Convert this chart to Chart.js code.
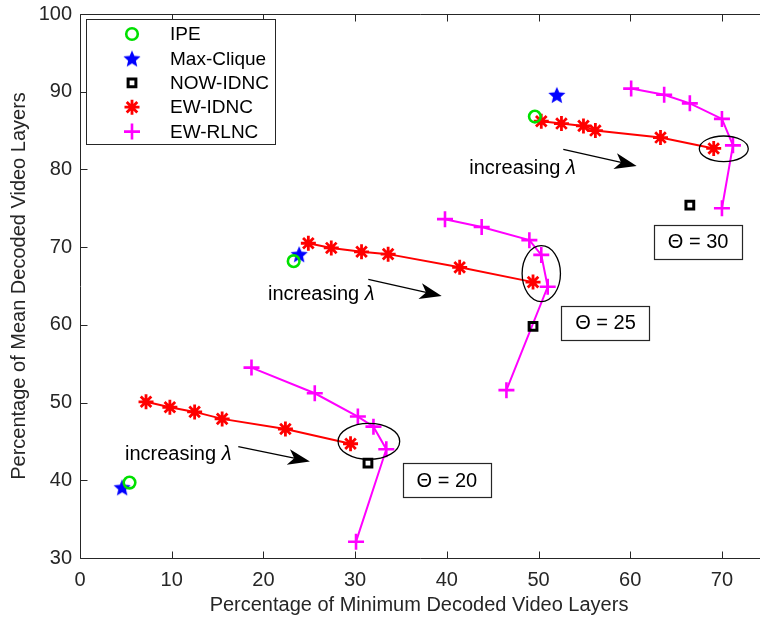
<!DOCTYPE html>
<html>
<head>
<meta charset="utf-8">
<script src="https://cdn.jsdelivr.net/npm/chart.js@4.4.1/dist/chart.umd.min.js"></script>
<style>
  html, body { margin: 0; padding: 0; background: #fff; overflow: hidden; }
  #wrap { width: 760px; height: 621px; }
</style>
</head>
<body>
<div id="wrap"><canvas id="chart" width="760" height="621"></canvas></div>
<script>
var FONT = '"Liberation Sans", Arial, Helvetica, sans-serif';
var INK = '#262626';

// x = % of minimum decoded layers, y = % of mean decoded layers
// one point per Theta group (20, 25, 30)
var thetas = [20, 25, 30];
var ipeX = [5.4, 23.3, 49.6];
var ipeY = [39.7, 68.2, 86.8];
var cliqueX = [4.6, 23.9, 52.0];
var cliqueY = [39.1, 69.1, 89.6];
var nowIdncX = [31.4, 49.4, 66.5];
var nowIdncY = [42.2, 59.8, 75.4];

// EW-IDNC sweeps (increasing lambda)
var ewIdnc20X = [7.2, 9.8, 12.5, 15.5, 22.4, 29.5];
var ewIdnc20Y = [50.1, 49.4, 48.8, 47.9, 46.6, 44.7];
var ewIdnc25X = [24.9, 27.4, 30.7, 33.6, 41.4, 49.4];
var ewIdnc25Y = [70.5, 69.9, 69.4, 69.1, 67.4, 65.5];
var ewIdnc30X = [50.3, 52.5, 54.9, 56.2, 63.3, 69.1];
var ewIdnc30Y = [86.2, 85.9, 85.6, 85.0, 84.1, 82.7];

// EW-RLNC sweeps
var ewRlnc20X = [18.7, 25.6, 30.3, 32.0, 33.4, 30.1];
var ewRlnc20Y = [54.5, 51.2, 48.2, 46.9, 44.0, 32.1];
var ewRlnc25X = [39.8, 43.8, 49.0, 50.3, 51.0, 46.5];
var ewRlnc25Y = [73.6, 72.6, 70.9, 69.0, 64.9, 51.6];
var ewRlnc30X = [60.1, 63.7, 66.5, 70.0, 71.2, 70.0];
var ewRlnc30Y = [90.4, 89.6, 88.5, 86.5, 83.1, 75.0];

var xTicks = [0, 10, 20, 30, 40, 50, 60, 70];
var yTicks = [30, 40, 50, 60, 70, 80, 90, 100];

var seriesNames = ['IPE', 'Max-Clique', 'NOW-IDNC', 'EW-IDNC', 'EW-RLNC'];

// annotation placement (data units)
var notes = {
  ellipses: [
    { x: 31.5, y: 45.0, rx: 3.36, ry: 2.32 },
    { x: 50.3, y: 66.6, rx: 2.09, ry: 3.6 },
    { x: 70.2, y: 82.65, rx: 2.67, ry: 1.65 }
  ],
  arrows: [
    { x0: 17.26, y0: 44.32, x1: 25.07, y1: 42.43 },
    { x0: 31.44, y0: 65.86, x1: 39.44, y1: 63.71 },
    { x0: 52.7, y0: 82.59, x1: 60.7, y1: 80.44 }
  ],
  lambda: [
    { x: 4.9, y: 42.6 },
    { x: 20.5, y: 63.2 },
    { x: 42.45, y: 79.37 }
  ],
  boxes: [
    { x: 40.0, y: 40.0 },
    { x: 57.3, y: 60.3 },
    { x: 67.4, y: 70.7 }
  ]
};

function pts(xs, ys) {
  return xs.map(function(x, i) { return { x: x, y: ys[i] }; });
}

function makeStar(r, color) {
  var c = document.createElement('canvas');
  var s = Math.ceil(r * 2 + 4);
  c.width = s; c.height = s;
  var g = c.getContext('2d');
  g.translate(s / 2, s / 2 + r * 0.1);
  g.beginPath();
  for (var i = 0; i < 10; i++) {
    var rad = i % 2 ? r * 0.45 : r;
    var a = -Math.PI / 2 + i * Math.PI / 5;
    g.lineTo(rad * Math.cos(a), rad * Math.sin(a));
  }
  g.closePath();
  g.fillStyle = color;
  g.fill();
  return c;
}

var styles = {
  'IPE': { pointStyle: 'circle', pointRadius: 5.8, pointBorderWidth: 2.6, borderColor: '#00e000', backgroundColor: 'rgba(0,0,0,0)' },
  'Max-Clique': { pointStyle: makeStar(9, '#0000ff'), pointRadius: 8, pointBorderWidth: 1, borderColor: '#0000ff', backgroundColor: '#0000ff' },
  'NOW-IDNC': { pointStyle: 'rect', pointRadius: 5.5, pointBorderWidth: 3, borderColor: '#000000', backgroundColor: 'rgba(0,0,0,0)' },
  'EW-IDNC': { pointStyle: 'star', pointRadius: 7.5, pointBorderWidth: 2.8, borderColor: '#ff0000', backgroundColor: '#ff0000' },
  'EW-RLNC': { pointStyle: 'cross', pointRadius: 8, pointBorderWidth: 2.6, borderColor: '#ff00ff', backgroundColor: '#ff00ff' }
};

function series(name, data, line) {
  var st = styles[name];
  return {
    label: name,
    data: data,
    showLine: !!line,
    borderWidth: 2,
    borderColor: st.borderColor,
    backgroundColor: st.backgroundColor,
    pointStyle: st.pointStyle,
    pointRadius: st.pointRadius,
    pointBorderWidth: st.pointBorderWidth,
    pointBorderColor: st.borderColor,
    pointBackgroundColor: st.backgroundColor
  };
}

var idncXs = [ewIdnc20X, ewIdnc25X, ewIdnc30X];
var idncYs = [ewIdnc20Y, ewIdnc25Y, ewIdnc30Y];
var rlncXs = [ewRlnc20X, ewRlnc25X, ewRlnc30X];
var rlncYs = [ewRlnc20Y, ewRlnc25Y, ewRlnc30Y];

var datasets = [
  series('IPE', pts(ipeX, ipeY)),
  series('Max-Clique', pts(cliqueX, cliqueY)),
  series('NOW-IDNC', pts(nowIdncX, nowIdncY))
];
thetas.forEach(function(t, k) {
  datasets.push(series('EW-IDNC', pts(idncXs[k], idncYs[k]), true));
  datasets.push(series('EW-RLNC', pts(rlncXs[k], rlncYs[k]), true));
});

function drawArrow(ctx, x0, y0, x1, y1) {
  var ang = Math.atan2(y1 - y0, x1 - x0);
  var len = 22, half = 8, notch = 6;
  var c = Math.cos(ang), s = Math.sin(ang);
  ctx.beginPath();
  ctx.moveTo(x0, y0);
  ctx.lineTo(x1 - c * (len - notch), y1 - s * (len - notch));
  ctx.stroke();
  ctx.beginPath();
  ctx.moveTo(x1, y1);
  ctx.lineTo(x1 - c * len - s * half, y1 - s * len + c * half);
  ctx.lineTo(x1 - c * (len - notch), y1 - s * (len - notch));
  ctx.lineTo(x1 - c * len + s * half, y1 - s * len - c * half);
  ctx.closePath();
  ctx.fill();
}

var decor = {
  id: 'decor',
  afterDatasetsDraw: function(chart) {
    var ctx = chart.ctx, a = chart.chartArea;
    var xs = chart.scales.x, ys = chart.scales.y;
    ctx.save();

    // axes box (right edge falls off the canvas) with inward ticks
    var L = Math.round(a.left) + 0.5, T = Math.round(a.top) + 0.5, B = Math.round(a.bottom) + 0.5;
    ctx.strokeStyle = INK;
    ctx.lineWidth = 1;
    ctx.beginPath();
    ctx.moveTo(a.right + 2, T); ctx.lineTo(L, T); ctx.lineTo(L, B); ctx.lineTo(a.right + 2, B);
    xTicks.forEach(function(v) {
      var px = Math.round(xs.getPixelForValue(v)) + 0.5;
      ctx.moveTo(px, B); ctx.lineTo(px, B - 7);
      ctx.moveTo(px, T); ctx.lineTo(px, T + 7);
    });
    yTicks.forEach(function(v) {
      var py = Math.round(ys.getPixelForValue(v)) + 0.5;
      ctx.moveTo(L, py); ctx.lineTo(L + 7, py);
    });
    ctx.stroke();

    // ellipses around the last points
    ctx.strokeStyle = '#000';
    ctx.lineWidth = 1.3;
    notes.ellipses.forEach(function(e) {
      var cx = xs.getPixelForValue(e.x), cy = ys.getPixelForValue(e.y);
      var rx = Math.abs(xs.getPixelForValue(e.x + e.rx) - cx);
      var ry = Math.abs(ys.getPixelForValue(e.y + e.ry) - cy);
      ctx.beginPath();
      ctx.ellipse(cx, cy, rx, ry, 0, 0, Math.PI * 2);
      ctx.stroke();
    });

    // arrows + "increasing lambda"
    ctx.fillStyle = '#000';
    ctx.lineWidth = 1.3;
    notes.arrows.forEach(function(r) {
      drawArrow(ctx, xs.getPixelForValue(r.x0), ys.getPixelForValue(r.y0),
        xs.getPixelForValue(r.x1), ys.getPixelForValue(r.y1));
    });
    ctx.font = '20px ' + FONT;
    ctx.textAlign = 'left';
    ctx.textBaseline = 'alphabetic';
    notes.lambda.forEach(function(p) {
      var px = xs.getPixelForValue(p.x), py = ys.getPixelForValue(p.y);
      ctx.fillStyle = '#000';
      ctx.fillText('increasing ', px, py);
      var w = ctx.measureText('increasing ').width;
      ctx.font = 'italic 20px ' + FONT;
      ctx.fillText('\u03BB', px + w, py);
      ctx.font = '20px ' + FONT;
    });

    // Theta boxes
    thetas.forEach(function(t, k) {
      var b = notes.boxes[k];
      var cx = xs.getPixelForValue(b.x), cy = ys.getPixelForValue(b.y);
      var bw = 88, bh = 34;
      var x0 = Math.round(cx - bw / 2) + 0.5, y0 = Math.round(cy - bh / 2) + 0.5;
      ctx.fillStyle = '#fff';
      ctx.fillRect(x0, y0, bw, bh);
      ctx.strokeStyle = INK;
      ctx.lineWidth = 1.2;
      ctx.strokeRect(x0, y0, bw, bh);
      ctx.fillStyle = '#000';
      ctx.textAlign = 'center';
      ctx.textBaseline = 'middle';
      ctx.font = '20px ' + FONT;
      ctx.fillText('\u0398 = ' + t, cx, cy + 1);
    });

    // legend
    var lx = Math.round(a.left) + 6, ly = Math.round(a.top) + 5, lw = 189, lh = 125;
    ctx.fillStyle = '#fff';
    ctx.fillRect(lx + 0.5, ly + 0.5, lw, lh);
    ctx.strokeStyle = INK;
    ctx.lineWidth = 1;
    ctx.strokeRect(lx + 0.5, ly + 0.5, lw, lh);
    ctx.font = '19px ' + FONT;
    ctx.textAlign = 'left';
    ctx.textBaseline = 'middle';
    seriesNames.forEach(function(name, i) {
      var st = styles[name];
      var ry = ly + 15 + i * 24.4;
      ctx.save();
      ctx.strokeStyle = st.borderColor;
      ctx.fillStyle = st.backgroundColor;
      ctx.lineWidth = st.pointBorderWidth;
      Chart.helpers.drawPoint(ctx, {
        pointStyle: st.pointStyle, radius: st.pointRadius, rotation: 0, borderWidth: st.pointBorderWidth
      }, lx + 46, ry);
      ctx.restore();
      ctx.fillStyle = '#000';
      ctx.fillText(name, lx + 84, ry + 1);
    });

    // axis titles
    ctx.fillStyle = INK;
    ctx.font = '20px ' + FONT;
    ctx.textAlign = 'center';
    ctx.textBaseline = 'middle';
    ctx.fillText('Percentage of Minimum Decoded Video Layers', 419, 605);
    ctx.save();
    ctx.translate(19, (a.top + a.bottom) / 2);
    ctx.rotate(-Math.PI / 2);
    ctx.fillText('Percentage of Mean Decoded Video Layers', 0, 0);
    ctx.restore();

    ctx.restore();
  }
};

function noPad(s) {
  s.paddingTop = 0; s.paddingBottom = 0; s.paddingLeft = 0; s.paddingRight = 0;
}

new Chart(document.getElementById('chart'), {
  type: 'scatter',
  data: { datasets: datasets },
  options: {
    responsive: false,
    animation: false,
    events: [],
    layout: { autoPadding: false, padding: { left: 0, right: 0, top: 14, bottom: 0 } },
    plugins: { legend: { display: false }, tooltip: { enabled: false } },
    scales: {
      x: {
        type: 'linear', min: 0, max: 74.15,
        afterFit: function(s) { s.height = 63; noPad(s); },
        afterBuildTicks: function(s) { s.ticks = xTicks.map(function(v) { return { value: v }; }); },
        grid: { display: false, drawTicks: false },
        border: { display: false },
        ticks: { color: INK, padding: 10, maxRotation: 0, font: { family: FONT, size: 20 } }
      },
      y: {
        type: 'linear', min: 30, max: 100,
        afterFit: function(s) { s.width = 80; noPad(s); },
        afterBuildTicks: function(s) { s.ticks = yTicks.map(function(v) { return { value: v }; }); },
        grid: { display: false, drawTicks: false },
        border: { display: false },
        ticks: { color: INK, padding: 8, font: { family: FONT, size: 20 } }
      }
    }
  },
  plugins: [decor]
});
</script>
</body>
</html>
